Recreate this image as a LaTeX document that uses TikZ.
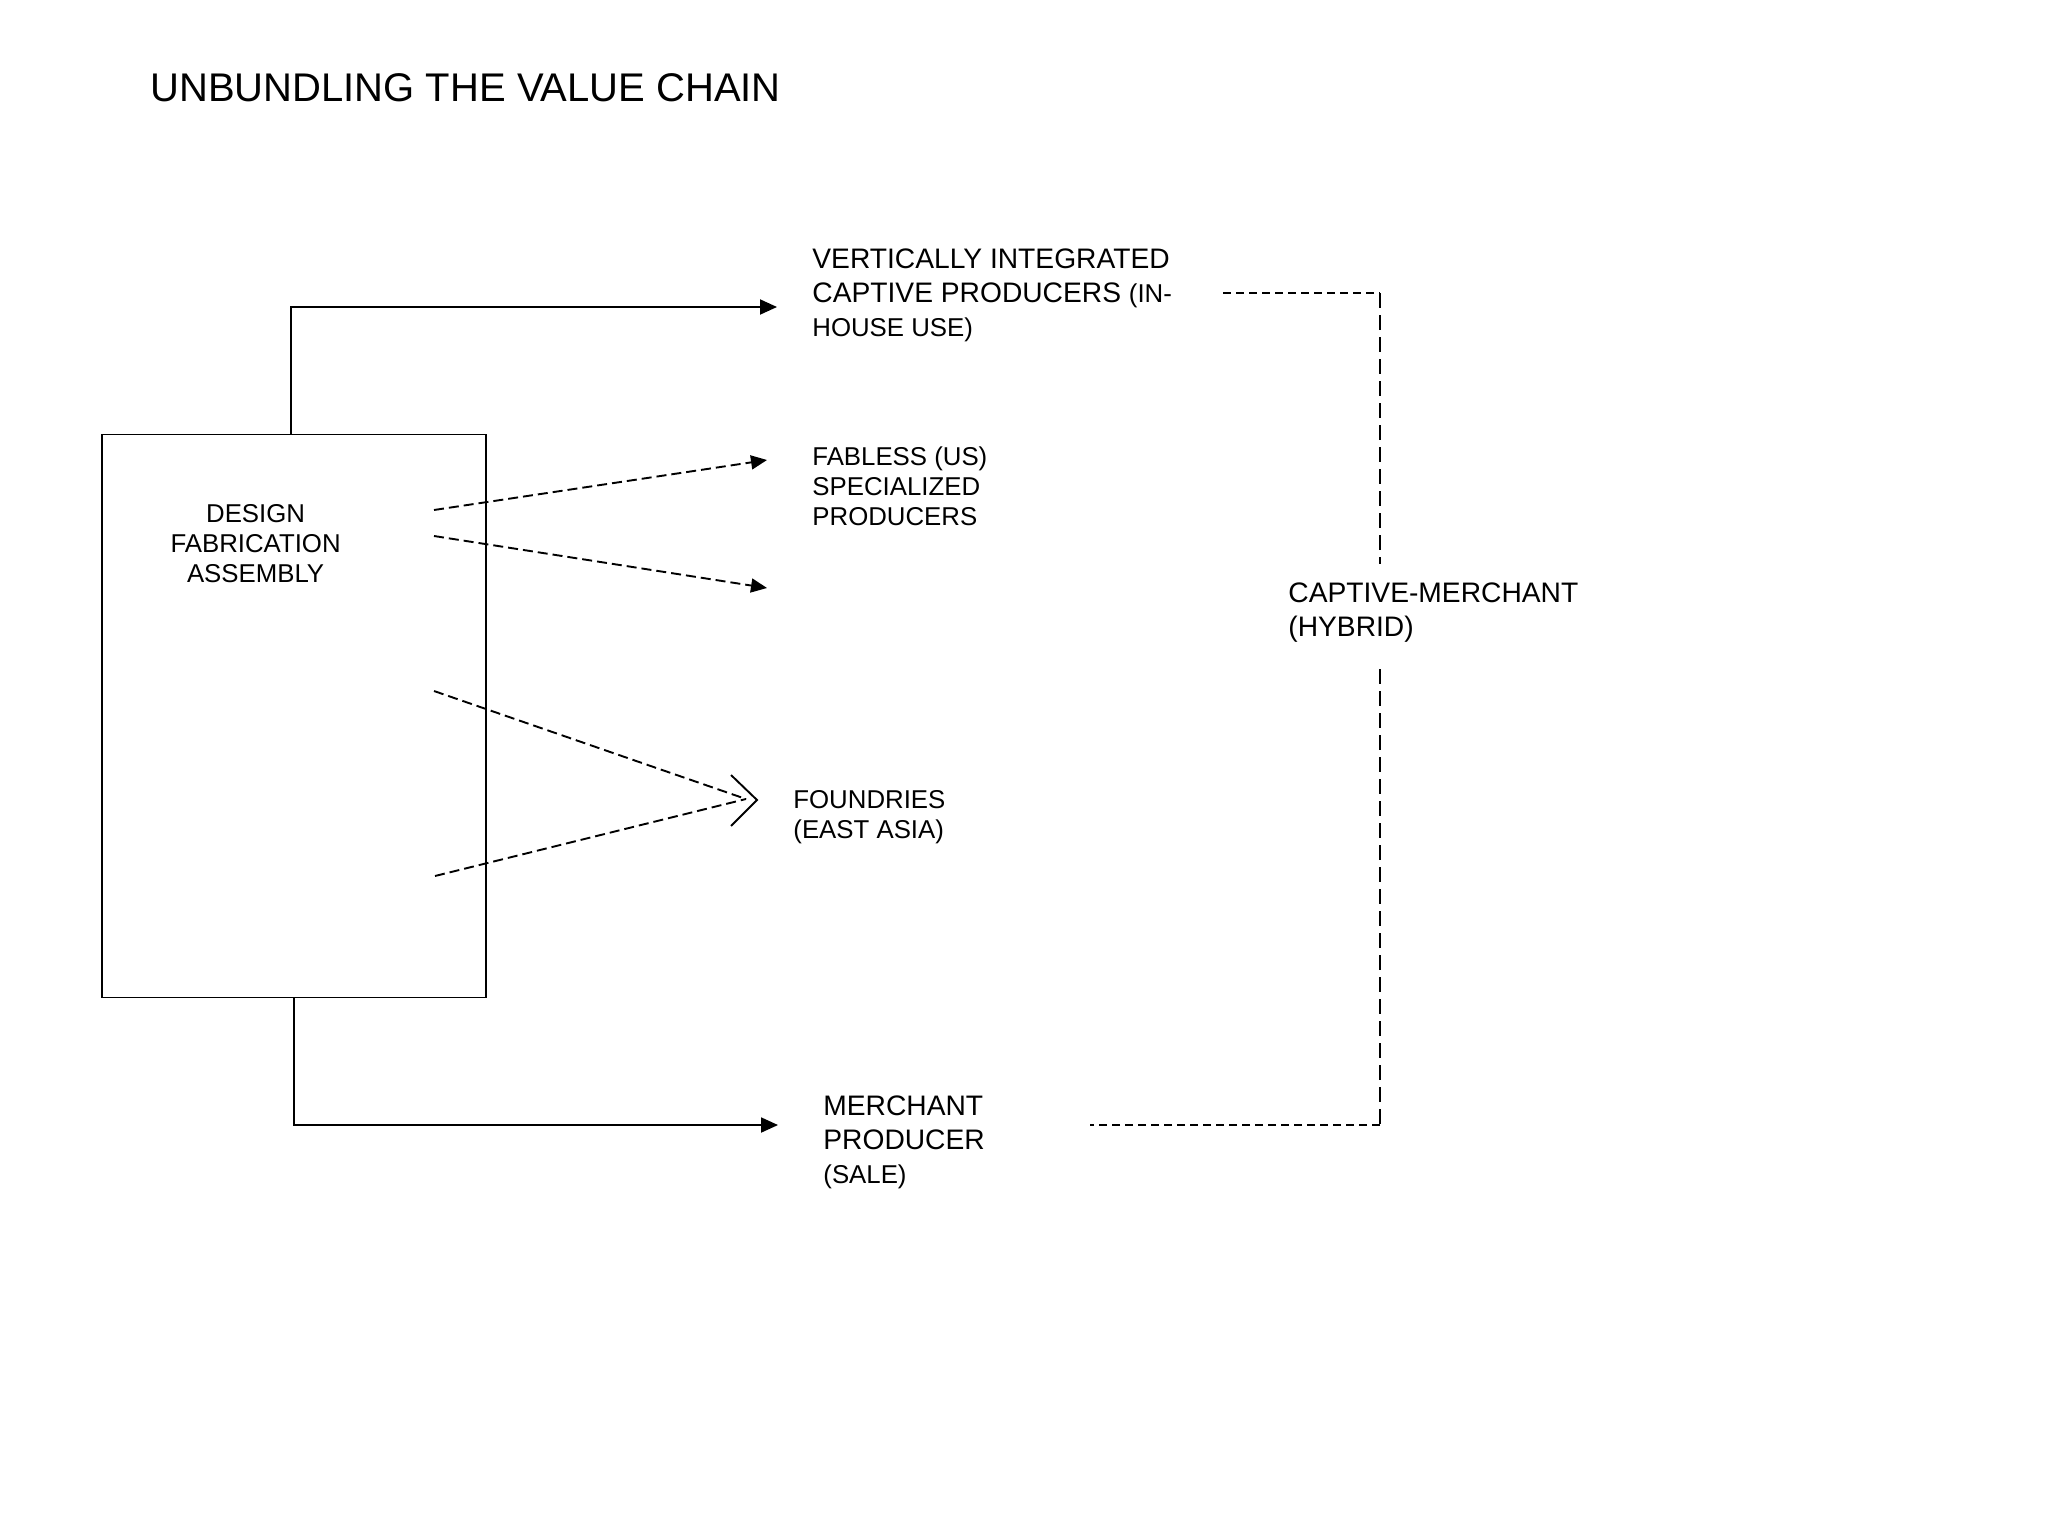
\documentclass[tikz,border=0pt]{standalone}
\usepackage{fontspec}
\setmainfont{Liberation Sans}
\usetikzlibrary{arrows.meta}
\begin{document}
\begin{tikzpicture}[x=0.5pt,y=-0.5pt,
  ln/.style={line width=0.95pt},
  arr/.style={ln,-{Triangle[length=8.5pt,width=7.5pt]}},
  hdash/.style={ln,dash pattern=on 4pt off 2.5pt},
  vdash/.style={ln,dash pattern=on 7.5pt off 3.5pt},
  ddash/.style={ln,dash pattern=on 5pt off 2.5pt},
  big/.style={font=\fontsize{14.1}{17}\selectfont},
  sml/.style={font=\fontsize{12.9}{15}\selectfont},
  lab/.style={anchor=north west, inner sep=0pt, align=left}]
\useasboundingbox (0,0) rectangle (2048,1536);
\fill[white] (0,0) rectangle (2048,1536);

% title
\node[lab, font=\fontsize{20}{24}\selectfont] (title) at (150,73) {UNBUNDLING THE VALUE CHAIN};

% box
\node[draw, ln, minimum width=192pt, minimum height=281.5pt, inner sep=0pt] (box) at (293.9,716) {};
\node[sml, align=center, inner sep=0pt, anchor=north] (boxtext) at (255.6,504) {DESIGN\\FABRICATION\\ASSEMBLY};

% labels
\node[lab, big] (vi) at (812,248) {VERTICALLY INTEGRATED\\CAPTIVE PRODUCERS {\fontsize{12.9}{15}\selectfont (IN-}\\{\fontsize{12.9}{15}\selectfont HOUSE USE)}};
\node[lab, sml] (fab) at (812,446) {FABLESS (US)\\SPECIALIZED\\PRODUCERS};
\node[lab, sml] (fnd) at (793,790) {FOUNDRIES\\(EAST ASIA)};
\node[lab, big] (hyb) at (1288,582) {CAPTIVE-MERCHANT\\(HYBRID)};
\node[lab, big] (mp) at (823,1095.5) {MERCHANT\\PRODUCER\\{\fontsize{12.9}{15}\selectfont (SALE)}};

% solid connectors
\coordinate (viin) at (777,307);
\coordinate (mpin) at (778,1125);
\draw[arr] ([xshift=-1.5pt]box.north) |- (viin);
\draw[arr] (box.south) |- (mpin);

% fabless dashed arrows
\coordinate (f1s) at (434,510);
\coordinate (f1e) at (767,460);
\coordinate (f2s) at (434,536);
\coordinate (f2e) at (767,588);
\draw[ddash,-{Triangle[length=8pt,width=7pt]}] (f1s) -- (f1e);
\draw[ddash,-{Triangle[length=8pt,width=7pt]}] (f2s) -- (f2e);

% foundries dashed lines with open chevron
\coordinate (d1s) at (434,691);
\coordinate (d2s) at (435,876);
\coordinate (dtip) at (746,799);
\draw[ddash] (d1s) -- (dtip);
\draw[ddash] (d2s) -- (dtip);
\draw[ln] (731,775) -- (757,800) -- (731,826);

% captive-merchant bracket
\coordinate (h1) at (1223,293);
\coordinate (c1) at (1380,293);
\coordinate (v1) at (1380,564);
\coordinate (v2) at (1380,669);
\coordinate (c2) at (1380,1125);
\coordinate (h2) at (1090,1125);
\draw[hdash] (h1) -- (c1);
\draw[vdash] (c1) -- (v1);
\draw[vdash] (v2) -- (c2);
\draw[hdash] (c2) -- (h2);
\end{tikzpicture}
\end{document}
